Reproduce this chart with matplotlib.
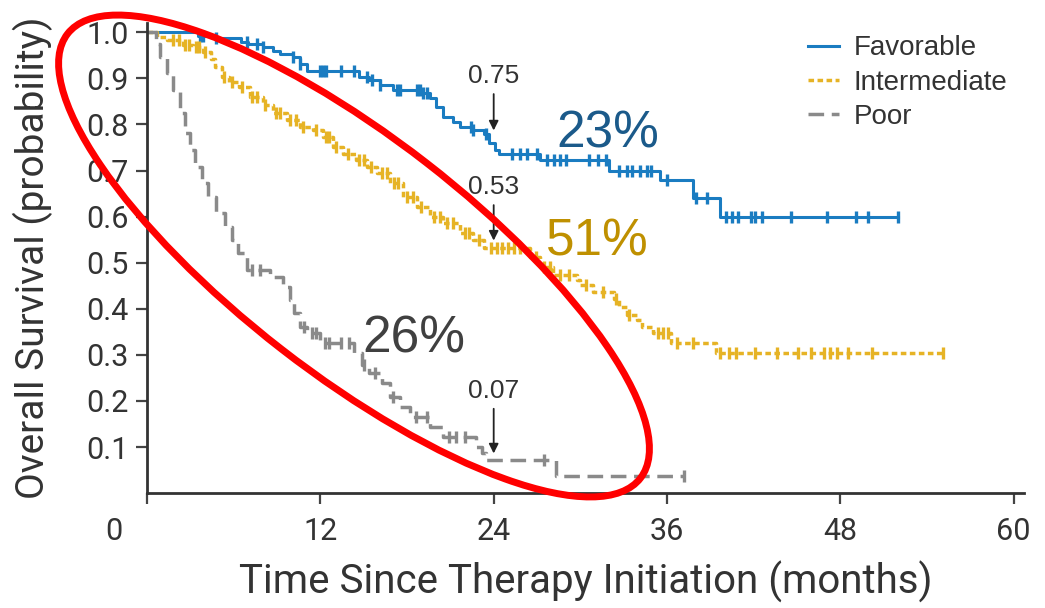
import numpy as np
import matplotlib
matplotlib.use('Agg')
import matplotlib.pyplot as plt
from matplotlib.patches import Ellipse
from matplotlib.transforms import offset_copy

# Kaplan-Meier step data (months, survival)
fav_t = [0, 3.5, 4.8, 6.5, 7.0, 8.0, 8.7, 9.2, 10.1, 10.6, 11.1, 14.7, 15.4, 16.1, 17.0,
         19.0, 19.6, 20.0, 20.5, 21.2, 21.7, 22.6, 23.3, 23.7, 24.1, 24.4, 27.2, 32.0,
         35.5, 37.8, 39.7, 52.0]
fav_s = [1.0, 0.993, 0.988, 0.98, 0.975, 0.968, 0.96, 0.953, 0.946, 0.932, 0.917, 0.903,
         0.896, 0.885, 0.874, 0.868, 0.858, 0.838, 0.816, 0.805, 0.795, 0.787, 0.78, 0.76,
         0.745, 0.737, 0.722, 0.70, 0.679, 0.64, 0.60, 0.60]
fav_cens = [3.7, 3.9, 4.8, 6.9, 7.6, 8.0, 10.1, 10.6, 12.0, 12.2, 12.4, 13.4, 14.3, 15.2,
            15.6, 16.1, 17.3, 17.5, 18.7, 18.9, 19.1, 19.4, 22.4, 22.6, 23.5, 25.3, 25.8,
            26.3, 27.0, 27.7, 28.2, 28.6, 29.0, 30.6, 31.2, 31.8, 32.7, 33.2, 33.6, 34.1,
            34.6, 34.9, 36.0, 38.0, 38.8, 40.1, 40.5, 40.9, 41.8, 42.1, 42.6, 44.6, 47.1,
            49.1, 49.9, 52.0]

int_t = [0, 0.7, 1.4, 2.5, 3.2, 3.9, 4.4, 4.7, 5.2, 5.7, 6.4, 7.1, 8.0, 8.7, 9.7, 10.6,
         11.5, 12.2, 12.9, 13.6, 14.5, 15.2, 15.9, 16.8, 17.7, 18.7, 19.6, 20.5, 21.7,
         22.6, 23.3, 26.5, 27.2, 28.1, 29.8, 30.0, 30.9, 32.3, 32.7, 33.2, 33.9, 34.3,
         35.0, 36.3, 39.4, 55.1]
int_s = [1.0, 0.99, 0.983, 0.972, 0.968, 0.957, 0.943, 0.925, 0.903, 0.892, 0.881, 0.86,
         0.842, 0.824, 0.809, 0.795, 0.787, 0.773, 0.751, 0.737, 0.722, 0.708, 0.694,
         0.672, 0.643, 0.621, 0.60, 0.586, 0.564, 0.549, 0.531, 0.513, 0.491, 0.473,
         0.462, 0.451, 0.437, 0.422, 0.404, 0.386, 0.375, 0.361, 0.347, 0.325, 0.303, 0.303]
int_cens = [1.8, 2.2, 2.6, 2.9, 3.4, 3.6, 4.0, 5.3, 5.9, 6.6, 7.3, 7.6, 8.2, 8.9, 9.2, 9.9,
            10.3, 10.8, 11.7, 12.4, 12.6, 13.1, 13.9, 14.7, 15.0, 15.5, 16.3, 16.6, 17.1,
            17.4, 18.0, 18.4, 19.0, 19.9, 20.3, 20.8, 21.2, 22.0, 22.3, 23.0, 23.8, 24.2,
            24.6, 25.0, 25.4, 25.8, 26.9, 27.5, 27.9, 28.6, 29.2, 30.4, 31.6, 32.5, 33.4,
            35.4, 35.7, 36.1, 36.7, 37.8, 39.7, 40.3, 40.8, 42.1, 43.6, 45.1, 46.0, 46.9,
            47.3, 47.8, 48.5, 50.2, 55.1]

poor_t = [0, 0.6, 0.9, 1.4, 1.8, 2.3, 2.6, 3.0, 3.3, 3.8, 4.2, 4.8, 5.4, 5.9, 6.3, 6.9,
          8.5, 9.4, 9.9, 10.2, 10.6, 11.1, 12.0, 14.3, 14.9, 15.4, 16.3, 16.8, 17.5, 18.2,
          19.6, 20.5, 22.8, 23.2, 23.5, 28.3, 37.2]
poor_s = [1.0, 0.975, 0.946, 0.911, 0.874, 0.824, 0.781, 0.744, 0.707, 0.672, 0.642, 0.607,
          0.577, 0.549, 0.521, 0.484, 0.469, 0.447, 0.419, 0.39, 0.36, 0.347, 0.325, 0.303,
          0.278, 0.26, 0.238, 0.208, 0.187, 0.165, 0.143, 0.121, 0.10, 0.087, 0.072, 0.038,
          0.038]
poor_cens = [7.3, 7.8, 10.9, 11.4, 11.7, 12.3, 12.6, 13.4, 14.0, 15.0, 15.8, 17.0, 18.6,
             19.4, 20.9, 21.4, 22.0, 27.5, 37.2]

# 24-month survival labels and group percentages
mark_24 = [0.75, 0.53, 0.07]
pct_labels = ['23%', '51%', '26%']
x_ticks = [0, 12, 24, 36, 48, 60]
y_ticks = [0.1, 0.2, 0.3, 0.4, 0.5, 0.6, 0.7, 0.8, 0.9, 1.0]

narrow = ['Roboto', 'DejaVu Sans']
plt.rcParams['font.family'] = ['Liberation Sans', 'DejaVu Sans']

fig = plt.figure(figsize=(10.45, 6.08), dpi=100)
ax = fig.add_axes([0.1407, 0.189, 0.839, 0.773])


def surv_at(t, s, x):
    i = np.searchsorted(t, x, side='right') - 1
    return np.asarray(s)[i]


series = [
    (fav_t, fav_s, fav_cens, '#1a7cc1', 'Favorable', 2.2, dict(linestyle='-')),
    (int_t, int_s, int_cens, '#e6b325', 'Intermediate', 2.5, dict(dashes=(1.6, 1.0))),
    (poor_t, poor_s, poor_cens, '#8a8a8a', 'Poor', 2.5, dict(dashes=(4.5, 2.2))),
]
for t, s, c, col, lab, lw, ls in series:
    ax.step(t, s, where='post', color=col, lw=lw, label=lab, **ls)
    ax.plot(c, surv_at(t, s, c), linestyle='none', marker='|', ms=9, mew=2.4, color=col)

# arrows at 24 months
text_y = [0.905, 0.665, 0.222]
tail_y = [0.866, 0.625, 0.183]
tip_y = [0.787, 0.548, 0.086]
for v, ty, a, b in zip(mark_24, text_y, tail_y, tip_y):
    ax.text(24, ty, f'{v:.2f}', ha='center', va='center', fontsize=19, color='#333333')
    ax.annotate('', xy=(24, b), xytext=(24, a),
                arrowprops=dict(arrowstyle='-|>', color='#222222', lw=1.3,
                                mutation_scale=14, shrinkA=0, shrinkB=0))

pct_pos = [(31.9, 0.78), (31.2, 0.545), (18.5, 0.335)]
pct_col = ['#1b5a8a', '#bf9000', '#404040']
for lab, (px, py), col in zip(pct_labels, pct_pos, pct_col):
    ax.text(px, py, lab, ha='center', va='center', fontsize=37, color=col)

ax.set_xlim(0, 60.7)
ax.set_ylim(0, 1.02)
ax.set_xticks(x_ticks)
ax.set_xticklabels([''] + [str(v) for v in x_ticks[1:]])
ax.set_yticks(y_ticks)
ax.set_yticklabels([f'{v:.1f}' for v in y_ticks])
for lbl in ax.get_xticklabels() + ax.get_yticklabels():
    lbl.set_fontfamily(narrow)
    lbl.set_fontsize(22)
    lbl.set_color('#333333')
ax.tick_params(axis='both', length=8, width=1.6, color='#444444', direction='out')
ax.tick_params(axis='x', pad=9)
ax.tick_params(axis='y', pad=5)
# the "0" label sits left of the axis corner
zero_tr = offset_copy(ax.get_xaxis_transform(), fig=fig, x=-24, y=-17, units='points')
ax.text(x_ticks[0], 0, str(x_ticks[0]), transform=zero_tr, ha='center', va='top',
        fontsize=22, family=narrow, color='#333333')
for side in ['top', 'right']:
    ax.spines[side].set_visible(False)
for side in ['left', 'bottom']:
    ax.spines[side].set_linewidth(2)
    ax.spines[side].set_color('#333333')

ax.set_xlabel('Time Since Therapy Initiation (months)', fontsize=29, family=narrow,
              color='#333333', labelpad=11)
ax.set_ylabel('Overall Survival (probability)', fontsize=28, family=narrow,
              color='#333333', labelpad=24)

leg = ax.legend(loc='upper left', bbox_to_anchor=(0.754, 0.974), frameon=False,
                fontsize=20, handlelength=1.1, handletextpad=0.54, labelspacing=0.3,
                borderaxespad=0, borderpad=0)
for txt in leg.get_texts():
    txt.set_color('#333333')

# red highlight ellipse, placed in figure inches
ell = Ellipse((3.54, 3.52), 7.25, 2.36, angle=-37.8, fill=False, edgecolor='#ff0000',
              lw=5, transform=fig.dpi_scale_trans, clip_on=False)
fig.add_artist(ell)

fig.savefig('out.png', dpi=100)
